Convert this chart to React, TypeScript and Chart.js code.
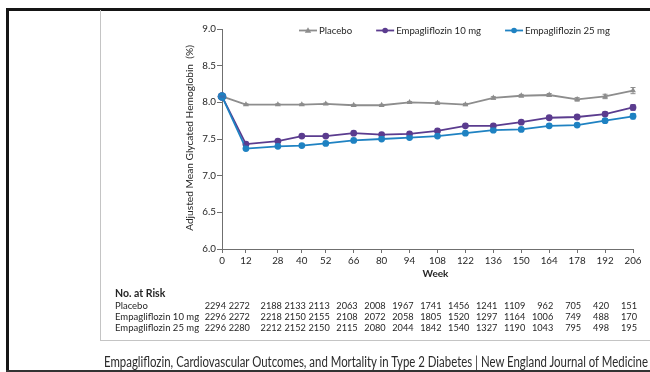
import { useEffect, useRef } from "react";
import { Chart, registerables } from "chart.js";

Chart.register(...registerables);

const weeks = [0, 12, 28, 40, 52, 66, 80, 94, 108, 122, 136, 150, 164, 178, 192, 206];
const placebo = [8.08, 7.97, 7.97, 7.97, 7.98, 7.96, 7.96, 8.0, 7.99, 7.97, 8.06, 8.09, 8.1, 8.04, 8.08, 8.16];
const empa10 = [8.08, 7.43, 7.47, 7.54, 7.54, 7.58, 7.56, 7.57, 7.61, 7.68, 7.68, 7.73, 7.79, 7.8, 7.84, 7.93];
const empa25 = [8.08, 7.37, 7.4, 7.41, 7.44, 7.48, 7.5, 7.52, 7.54, 7.58, 7.62, 7.63, 7.68, 7.69, 7.75, 7.81];
const placeboErr = [0.01, 0.01, 0.01, 0.01, 0.01, 0.012, 0.012, 0.012, 0.014, 0.015, 0.017, 0.018, 0.02, 0.024, 0.03, 0.042];
const empa10Err = [0.01, 0.01, 0.01, 0.01, 0.01, 0.012, 0.012, 0.012, 0.013, 0.014, 0.016, 0.017, 0.019, 0.022, 0.027, 0.037];
const empa25Err = [0.01, 0.01, 0.01, 0.01, 0.01, 0.012, 0.012, 0.012, 0.013, 0.014, 0.016, 0.017, 0.019, 0.022, 0.027, 0.036];

const riskPlacebo = [2294, 2272, 2188, 2133, 2113, 2063, 2008, 1967, 1741, 1456, 1241, 1109, 962, 705, 420, 151];
const riskEmpa10 = [2296, 2272, 2218, 2150, 2155, 2108, 2072, 2058, 1805, 1520, 1297, 1164, 1006, 749, 488, 170];
const riskEmpa25 = [2296, 2280, 2212, 2152, 2150, 2115, 2080, 2044, 1842, 1540, 1327, 1190, 1043, 795, 498, 195];

const seriesNames = ["Placebo", "Empagliflozin 10 mg", "Empagliflozin 25 mg"];
const yTicks = [6.0, 6.5, 7.0, 7.5, 8.0, 8.5, 9.0];

const yTitle = "Adjusted Mean Glycated Hemoglobin  (%)";
const xTitle = "Week";
const riskTitle = "No. at Risk";
const caption =
  "Empagliflozin, Cardiovascular Outcomes, and Mortality in Type 2 Diabetes | New England Journal of Medicine";

const GREY = "#8d8d8d";
const PURPLE = "#5b3c8f";
const BLUE = "#1f82c2";
const TEXT = "#262626";
const AXIS = "#6f6f6f";
const FONT = "Lato, 'Open Sans', sans-serif";

export default function App() {
  const canvasRef = useRef<HTMLCanvasElement>(null);
  const capRef = useRef<HTMLSpanElement>(null);

  useEffect(() => {
    document.body.style.margin = "0";
    const canvas = canvasRef.current!;
    const colors = [GREY, PURPLE, BLUE];
    const errs = [placeboErr, empa10Err, empa25Err];
    const styles = ["triangle", "circle", "circle"];

    const overlay = {
      id: "overlay",
      afterDatasetsDraw(chart: any) {
        const ctx = chart.ctx;
        const xs = chart.scales.x;
        const ys = chart.scales.y;
        ctx.save();
        chart.data.datasets.forEach((ds: any, di: number) => {
          ctx.strokeStyle = colors[di];
          ctx.lineWidth = 1;
          (ds.data as any[]).forEach((p: any, i: number) => {
            const e = errs[di][i];
            const x = xs.getPixelForValue(p.x);
            const y1 = ys.getPixelForValue(p.y - e);
            const y2 = ys.getPixelForValue(p.y + e);
            ctx.beginPath();
            ctx.moveTo(x, y1);
            ctx.lineTo(x, y2);
            ctx.moveTo(x - 2.5, y1);
            ctx.lineTo(x + 2.5, y1);
            ctx.moveTo(x - 2.5, y2);
            ctx.lineTo(x + 2.5, y2);
            ctx.stroke();
          });
        });
        ctx.restore();
      },
      afterDraw(chart: any) {
        const ctx = chart.ctx;
        const area = chart.chartArea;
        const xs = chart.scales.x;
        ctx.save();
        // legend
        ctx.font = `9.6px ${FONT}`;
        ctx.textBaseline = "middle";
        ctx.textAlign = "left";
        let lx = 299;
        const ly = 30.5;
        seriesNames.forEach((name, i) => {
          ctx.strokeStyle = colors[i];
          ctx.fillStyle = colors[i];
          ctx.lineWidth = 1.8;
          ctx.beginPath();
          ctx.moveTo(lx, ly);
          ctx.lineTo(lx + 18, ly);
          ctx.stroke();
          const cx = lx + 9;
          ctx.beginPath();
          if (styles[i] === "triangle") {
            ctx.moveTo(cx, ly - 3.3);
            ctx.lineTo(cx + 3.2, ly + 2.2);
            ctx.lineTo(cx - 3.2, ly + 2.2);
            ctx.closePath();
          } else {
            ctx.arc(cx, ly, 2.8, 0, Math.PI * 2);
          }
          ctx.fill();
          ctx.fillStyle = TEXT;
          ctx.fillText(name, lx + 20, ly);
          lx += 20 + ctx.measureText(name).width + 24;
        });

        // y title
        ctx.save();
        ctx.translate(190, (area.top + area.bottom) / 2 - 1);
        ctx.rotate(-Math.PI / 2);
        ctx.textAlign = "center";
        ctx.textBaseline = "middle";
        ctx.font = `10.2px ${FONT}`;
        ctx.fillStyle = TEXT;
        ctx.fillText(yTitle, 0, 0);
        ctx.restore();

        // x title
        ctx.textAlign = "center";
        ctx.font = `bold 10px ${FONT}`;
        ctx.fillStyle = TEXT;
        ctx.fillText(xTitle, (area.left + area.right) / 2 + 8, 274);

        // risk table
        ctx.textAlign = "left";
        ctx.font = `bold 10.5px ${FONT}`;
        ctx.fillText(riskTitle, 115, 294);
        const rows = [riskPlacebo, riskEmpa10, riskEmpa25];
        const rowY = [306, 317, 328];
        rows.forEach((row, r) => {
          ctx.font = `9.5px ${FONT}`;
          ctx.textAlign = "left";
          ctx.fillText(seriesNames[r], 115, rowY[r]);
          ctx.font = `9.2px ${FONT}`;
          ctx.textAlign = "right";
          row.forEach((n, i) => {
            ctx.fillText(String(n), xs.getPixelForValue(weeks[i]) + 4, rowY[r]);
          });
        });
        ctx.restore();
      },
    };

    const mk = (i: number, vals: number[]) => ({
      label: seriesNames[i],
      data: weeks.map((w, k) => ({ x: w, y: vals[k] })),
      borderColor: colors[i],
      backgroundColor: colors[i],
      pointBackgroundColor: colors[i],
      pointBorderColor: colors[i],
      pointStyle: styles[i] as any,
      pointRadius: (c: any) => (c.dataIndex === 0 ? 4.3 : 3.4),
      pointBorderWidth: 0,
      borderWidth: 1.8,
      tension: 0,
      clip: false as any,
      order: 3 - i,
    });

    const chart = new Chart(canvas, {
      type: "line",
      data: {
        datasets: [mk(0, placebo), mk(1, empa10), mk(2, empa25)],
      },
      options: {
        responsive: false,
        animation: false,
        events: [],
        layout: { padding: { top: 29, right: 17, left: 0, bottom: 103 } },
        plugins: { legend: { display: false }, tooltip: { enabled: false } },
        scales: {
          x: {
            type: "linear",
            min: 0,
            max: 206,
            afterBuildTicks: (axis: any) => {
              axis.ticks = weeks.map((v) => ({ value: v }));
            },
            afterFit: (s: any) => {
              s.height = 20;
            },
            ticks: {
              autoSkip: false,
              maxRotation: 0,
              padding: 2,
              color: TEXT,
              font: { family: FONT, size: 9.8 },
              callback: (v: any) => String(v),
            },
            grid: { display: true, drawOnChartArea: false, drawTicks: true, tickLength: 4, color: AXIS },
            border: { display: true, color: AXIS, width: 1 },
          },
          y: {
            type: "linear",
            min: 6,
            max: 9,
            afterBuildTicks: (axis: any) => {
              axis.ticks = yTicks.map((v) => ({ value: v }));
            },
            afterFit: (s: any) => {
              s.width = 222;
            },
            ticks: {
              padding: 1,
              color: TEXT,
              font: { family: FONT, size: 9.8 },
              callback: (v: any) => Number(v).toFixed(1),
            },
            grid: { display: true, drawOnChartArea: false, drawTicks: true, tickLength: 5, color: AXIS },
            border: { display: true, color: AXIS, width: 1 },
          },
        },
      },
      plugins: [overlay],
    });

    const cap = capRef.current;
    if (cap) {
      cap.style.transform = "none";
      const w = cap.getBoundingClientRect().width;
      if (w > 0) cap.style.transform = `scaleX(${544 / w})`;
    }

    return () => chart.destroy();
  }, []);

  return (
    <div style={{ position: "relative", width: 650, height: 372, overflow: "hidden", background: "#fff" }}>
      <canvas ref={canvasRef} width={650} height={372} style={{ position: "absolute", left: 0, top: 0 }} />
      <div style={{ position: "absolute", left: 6, top: 8, width: 644, height: 2.5, background: "#151515" }} />
      <div style={{ position: "absolute", left: 6, top: 8, width: 2.5, height: 364, background: "#151515" }} />
      <div style={{ position: "absolute", left: 100, top: 10, width: 1, height: 331, background: "#c4c4c4" }} />
      <div style={{ position: "absolute", left: 100, top: 340, width: 550, height: 1, background: "#c4c4c4" }} />
      <div style={{ position: "absolute", left: 6, top: 370, width: 644, height: 1.5, background: "#333" }} />
      <span
        ref={capRef}
        style={{
          position: "absolute",
          left: 104,
          top: 353,
          whiteSpace: "nowrap",
          fontFamily: FONT,
          fontSize: 14.5,
          lineHeight: "17px",
          color: "#2b2b2b",
          transformOrigin: "left top",
        }}
      >
        {caption}
      </span>
    </div>
  );
}
